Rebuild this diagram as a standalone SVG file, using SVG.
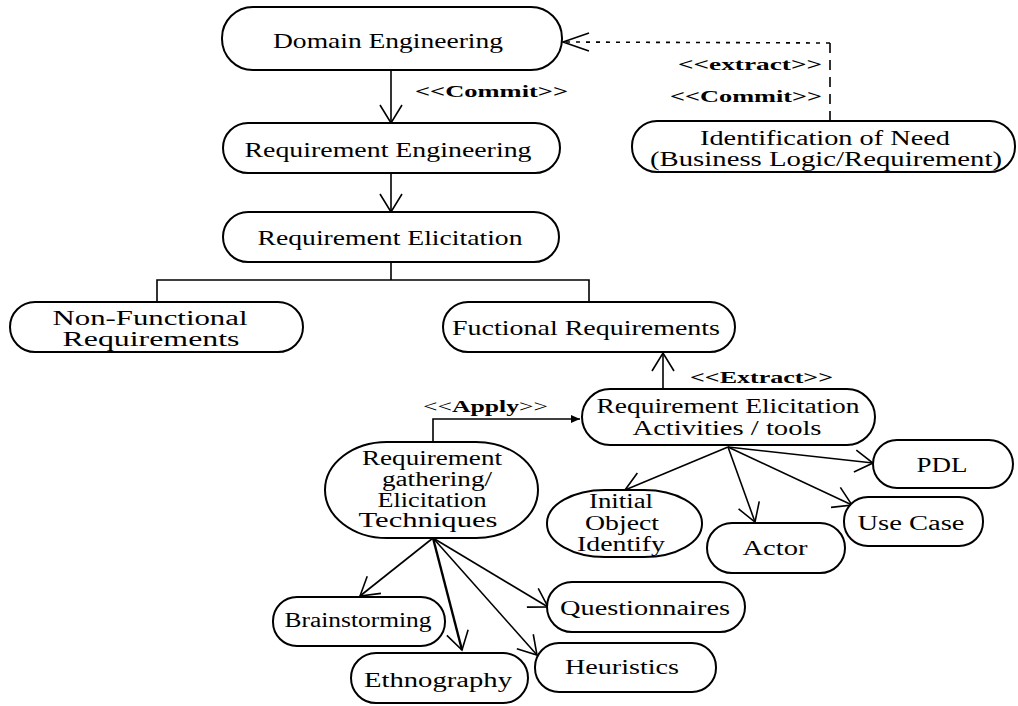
<svg xmlns="http://www.w3.org/2000/svg" width="1018" height="706" viewBox="0 0 1018 706">
  <style>
    .node { fill: #ffffff; stroke: #000000; stroke-width: 2; }
    .t { font-family: "Liberation Serif", "Times New Roman", serif; font-size: 22px; fill: #000000; text-anchor: middle; }
    .ts { font-family: "Liberation Serif", "Times New Roman", serif; font-size: 20px; fill: #000000; text-anchor: middle; }
    .lbl { font-family: "Liberation Serif", "Times New Roman", serif; font-size: 17px; font-weight: bold; fill: #000000; }
    .lbl .n { font-weight: normal; }
    .edge { fill: none; stroke: #000000; stroke-width: 1.6; }
    .thick { stroke-width: 2.4; }
  </style>
  <defs>
    <marker id="open" markerUnits="userSpaceOnUse" markerWidth="30" markerHeight="30" refX="0" refY="0" viewBox="-20 -15 22 30" orient="auto">
      <path d="M -18,-11 L 0,0 L -18,11" fill="none" stroke="#000" stroke-width="1.6"/>
    </marker>
    <marker id="openWide" markerUnits="userSpaceOnUse" markerWidth="32" markerHeight="24" refX="0" refY="0" viewBox="-28 -12 30 24" orient="auto">
      <path d="M -26,-9 L 0,0 L -26,9" fill="none" stroke="#000" stroke-width="1.6"/>
    </marker>
    <marker id="solid" markerUnits="userSpaceOnUse" markerWidth="12" markerHeight="10" refX="0" refY="0" viewBox="-10 -5 11 10" orient="auto">
      <path d="M -9,-4 L 0,0 L -9,4 Z" fill="#000"/>
    </marker>
  </defs>

  <rect width="1018" height="706" fill="#ffffff"/>

  <!-- connectors -->
  <g id="connectors">
    <line class="edge" x1="830" y1="121" x2="830" y2="43" stroke-dasharray="10,7"/>
    <line class="edge" x1="830" y1="43" x2="563" y2="42" stroke-dasharray="4,6" marker-end="url(#openWide)"/>
    <line class="edge" x1="391" y1="70" x2="391" y2="123" marker-end="url(#open)"/>
    <line class="edge" x1="391" y1="173" x2="391" y2="212" marker-end="url(#open)"/>
    <polyline class="edge" points="391,262 391,280"/>
    <polyline class="edge" points="157,302 157,280 589,280 589,302"/>
    <line class="edge" x1="663" y1="389" x2="663" y2="353" marker-end="url(#open)"/>
    <path class="edge" d="M 433,442 V 419 H 580" marker-end="url(#solid)"/>
    <line class="edge" x1="728" y1="447" x2="625" y2="490" marker-end="url(#open)"/>
    <line class="edge" x1="728" y1="447" x2="755" y2="522" marker-end="url(#open)"/>
    <line class="edge" x1="728" y1="447" x2="852" y2="505" marker-end="url(#open)"/>
    <line class="edge" x1="728" y1="447" x2="873" y2="463" marker-end="url(#open)"/>
    <line class="edge" x1="433" y1="538" x2="360" y2="596" marker-end="url(#open)"/>
    <line class="edge thick" x1="433" y1="538" x2="462" y2="650" marker-end="url(#open)"/>
    <line class="edge" x1="433" y1="538" x2="548" y2="607" marker-end="url(#open)"/>
    <line class="edge" x1="433" y1="538" x2="537" y2="655" marker-end="url(#open)"/>
  </g>

  <!-- connector labels -->
  <g id="labels">
    <text class="lbl" x="415" y="97" textLength="153" lengthAdjust="spacingAndGlyphs">&lt;&lt;Commit&gt;&gt;</text>
    <text class="lbl" x="678" y="70" textLength="144" lengthAdjust="spacingAndGlyphs">&lt;&lt;extract&gt;&gt;</text>
    <text class="lbl" x="670" y="102" textLength="152" lengthAdjust="spacingAndGlyphs">&lt;&lt;Commit&gt;&gt;</text>
    <text class="lbl" x="690" y="383" textLength="143" lengthAdjust="spacingAndGlyphs">&lt;&lt;Extract&gt;&gt;</text>
    <text class="lbl" x="423" y="412" textLength="125" lengthAdjust="spacingAndGlyphs"><tspan class="n">&lt;&lt;</tspan>Apply<tspan class="n">&gt;&gt;</tspan></text>
  </g>

  <g id="domain-engineering">
    <rect class="node" x="222" y="7" width="340" height="63" rx="31" ry="31"/>
    <text class="t" x="388" y="48" textLength="230" lengthAdjust="spacingAndGlyphs">Domain Engineering</text>
  </g>
  <g id="requirement-engineering">
    <rect class="node" x="223" y="123" width="337" height="50" rx="25" ry="25"/>
    <text class="t" x="388" y="157" textLength="287" lengthAdjust="spacingAndGlyphs">Requirement Engineering</text>
  </g>
  <g id="identification-of-need">
    <rect class="node" x="632" y="121" width="383" height="51" rx="25" ry="25"/>
    <text class="ts" x="825" y="145" textLength="250" lengthAdjust="spacingAndGlyphs">Identification of Need</text>
    <text class="ts" x="826" y="166" textLength="352" lengthAdjust="spacingAndGlyphs">(Business Logic/Requirement)</text>
  </g>
  <g id="requirement-elicitation">
    <rect class="node" x="223" y="212" width="336" height="50" rx="25" ry="25"/>
    <text class="t" x="390" y="245" textLength="265" lengthAdjust="spacingAndGlyphs">Requirement Elicitation</text>
  </g>
  <g id="non-functional">
    <rect class="node" x="10" y="302" width="293" height="50" rx="25" ry="25"/>
    <text class="ts" x="150" y="325" textLength="195" lengthAdjust="spacingAndGlyphs">Non-Functional</text>
    <text class="ts" x="151" y="346" textLength="177" lengthAdjust="spacingAndGlyphs">Requirements</text>
  </g>
  <g id="functional">
    <rect class="node" x="443" y="302" width="292" height="50" rx="25" ry="25"/>
    <text class="t" x="586" y="335" textLength="268" lengthAdjust="spacingAndGlyphs">Fuctional Requirements</text>
  </g>
  <g id="elicitation-activities">
    <rect class="node" x="582" y="389" width="293" height="56" rx="28" ry="28"/>
    <text class="ts" x="728" y="413" textLength="263" lengthAdjust="spacingAndGlyphs">Requirement Elicitation</text>
    <text class="ts" x="727" y="435" textLength="189" lengthAdjust="spacingAndGlyphs">Activities / tools</text>
  </g>
  <g id="elicitation-techniques">
    <rect class="node" x="325" y="442" width="213" height="96" rx="62" ry="48"/>
    <text class="ts" x="432" y="465" textLength="140" lengthAdjust="spacingAndGlyphs">Requirement</text>
    <text class="ts" x="437" y="486" textLength="110" lengthAdjust="spacingAndGlyphs">gathering/</text>
    <text class="ts" x="432" y="507" textLength="109" lengthAdjust="spacingAndGlyphs">Elicitation</text>
    <text class="ts" x="428" y="527" textLength="139" lengthAdjust="spacingAndGlyphs">Techniques</text>
  </g>
  <g id="initial-object">
    <rect class="node" x="547" y="490" width="155" height="67" rx="58" ry="33"/>
    <text class="ts" x="621" y="508" textLength="64" lengthAdjust="spacingAndGlyphs">Initial</text>
    <text class="ts" x="622" y="530" textLength="74" lengthAdjust="spacingAndGlyphs">Object</text>
    <text class="ts" x="621" y="551" textLength="88" lengthAdjust="spacingAndGlyphs">Identify</text>
  </g>
  <g id="actor">
    <rect class="node" x="707" y="523" width="138" height="50" rx="25" ry="25"/>
    <text class="ts" x="775" y="555" textLength="65" lengthAdjust="spacingAndGlyphs">Actor</text>
  </g>
  <g id="use-case">
    <rect class="node" x="844" y="497" width="139" height="49" rx="24" ry="24"/>
    <text class="ts" x="911" y="530" textLength="107" lengthAdjust="spacingAndGlyphs">Use Case</text>
  </g>
  <g id="pdl">
    <rect class="node" x="873" y="440" width="140" height="48" rx="24" ry="24"/>
    <text class="ts" x="942" y="472" textLength="51" lengthAdjust="spacingAndGlyphs">PDL</text>
  </g>
  <g id="brainstorming">
    <rect class="node" x="273" y="597" width="172" height="49" rx="24" ry="24"/>
    <text class="ts" x="358" y="627" textLength="147" lengthAdjust="spacingAndGlyphs">Brainstorming</text>
  </g>
  <g id="ethnography">
    <rect class="node" x="351" y="653" width="177" height="50" rx="25" ry="25"/>
    <text class="ts" x="438" y="687" textLength="148" lengthAdjust="spacingAndGlyphs">Ethnography</text>
  </g>
  <g id="questionnaires">
    <rect class="node" x="547" y="582" width="198" height="50" rx="25" ry="25"/>
    <text class="ts" x="645" y="615" textLength="170" lengthAdjust="spacingAndGlyphs">Questionnaires</text>
  </g>
  <g id="heuristics">
    <rect class="node" x="535" y="643" width="181" height="49" rx="24" ry="24"/>
    <text class="ts" x="622" y="674" textLength="114" lengthAdjust="spacingAndGlyphs">Heuristics</text>
  </g>
</svg>
